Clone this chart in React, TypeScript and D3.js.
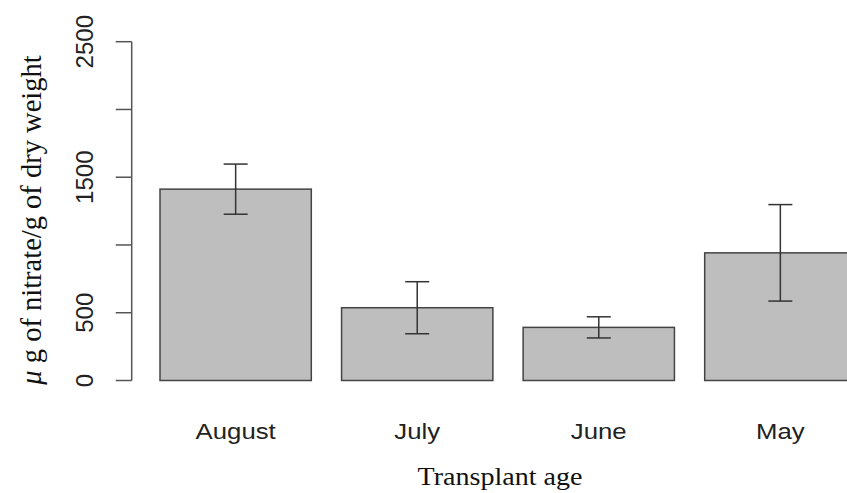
import React from "react";
import * as d3 from "d3";

// Nitrate content by transplant age (mean ± error)
const categories = ["August", "July", "June", "May"];
const means = [1412, 537, 392, 942];
const errors = [185, 192, 78, 356];
const yTicks = [0, 500, 1000, 1500, 2000, 2500];
const yTickLabels = ["0", "500", "", "1500", "", "2500"];

const W = 847;
const H = 493;

export default function App() {
  const y = d3.scaleLinear().domain([0, 2500]).range([380.5, 41.7]);
  const x = d3
    .scaleBand<string>()
    .domain(categories)
    .range([160, 856])
    .paddingInner(0.2 / 1.2)
    .paddingOuter(0);
  const axisX = 131.7;
  const tickLen = 16;
  const sans = "'Liberation Sans', Arial, sans-serif";
  const serif = "'Liberation Serif', 'Times New Roman', serif";

  return (
    <svg
      width={W}
      height={H}
      viewBox={`0 0 ${W} ${H}`}
      style={{ position: "absolute", left: 0, top: 0, background: "#fff" }}
    >
      {/* y axis */}
      <line x1={axisX} x2={axisX} y1={y(0)} y2={y(2500)} stroke="#555" strokeWidth={1.5} />
      {yTicks.map((t, i) => (
        <g key={t}>
          <line x1={axisX - tickLen} x2={axisX} y1={y(t)} y2={y(t)} stroke="#555" strokeWidth={1.5} />
          {yTickLabels[i] && (
            <text
              transform={`translate(${93},${y(t)}) rotate(-90)`}
              textAnchor="middle"
              fontFamily={sans}
              fontSize={24}
              fill="#222"
            >
              {yTickLabels[i]}
            </text>
          )}
        </g>
      ))}

      {/* bars */}
      {categories.map((c, i) => (
        <rect
          key={c}
          x={x(c)!}
          y={y(means[i])}
          width={x.bandwidth()}
          height={y(0) - y(means[i])}
          fill="#bebebe"
          stroke="#444"
          strokeWidth={1.5}
        />
      ))}

      {/* error bars */}
      {categories.map((c, i) => {
        const cx = x(c)! + x.bandwidth() / 2;
        const lo = y(means[i] - errors[i]);
        const hi = y(means[i] + errors[i]);
        return (
          <g key={c} stroke="#333" strokeWidth={1.5}>
            <line x1={cx} x2={cx} y1={hi} y2={lo} />
            <line x1={cx - 12} x2={cx + 12} y1={hi} y2={hi} />
            <line x1={cx - 12} x2={cx + 12} y1={lo} y2={lo} />
          </g>
        );
      })}

      {/* category labels */}
      {categories.map((c) => (
        <text
          key={c}
          transform={`translate(${x(c)! + x.bandwidth() / 2},439) scale(1.12,1)`}
          textAnchor="middle"
          fontFamily={sans}
          fontSize={23}
          fill="#222"
        >
          {c}
        </text>
      ))}

      {/* axis titles */}
      <text
        transform="translate(500,485) scale(1.08,1)"
        textAnchor="middle"
        fontFamily={serif}
        fontSize={26}
        fill="#111"
      >
        Transplant age
      </text>
      <text
        transform="translate(41,220) rotate(-90)"
        textAnchor="middle"
        fontFamily={serif}
        fontSize={28.5}
        fill="#111"
      >
        <tspan fontStyle="italic">μ</tspan> g of nitrate/g of dry weight
      </text>
    </svg>
  );
}
